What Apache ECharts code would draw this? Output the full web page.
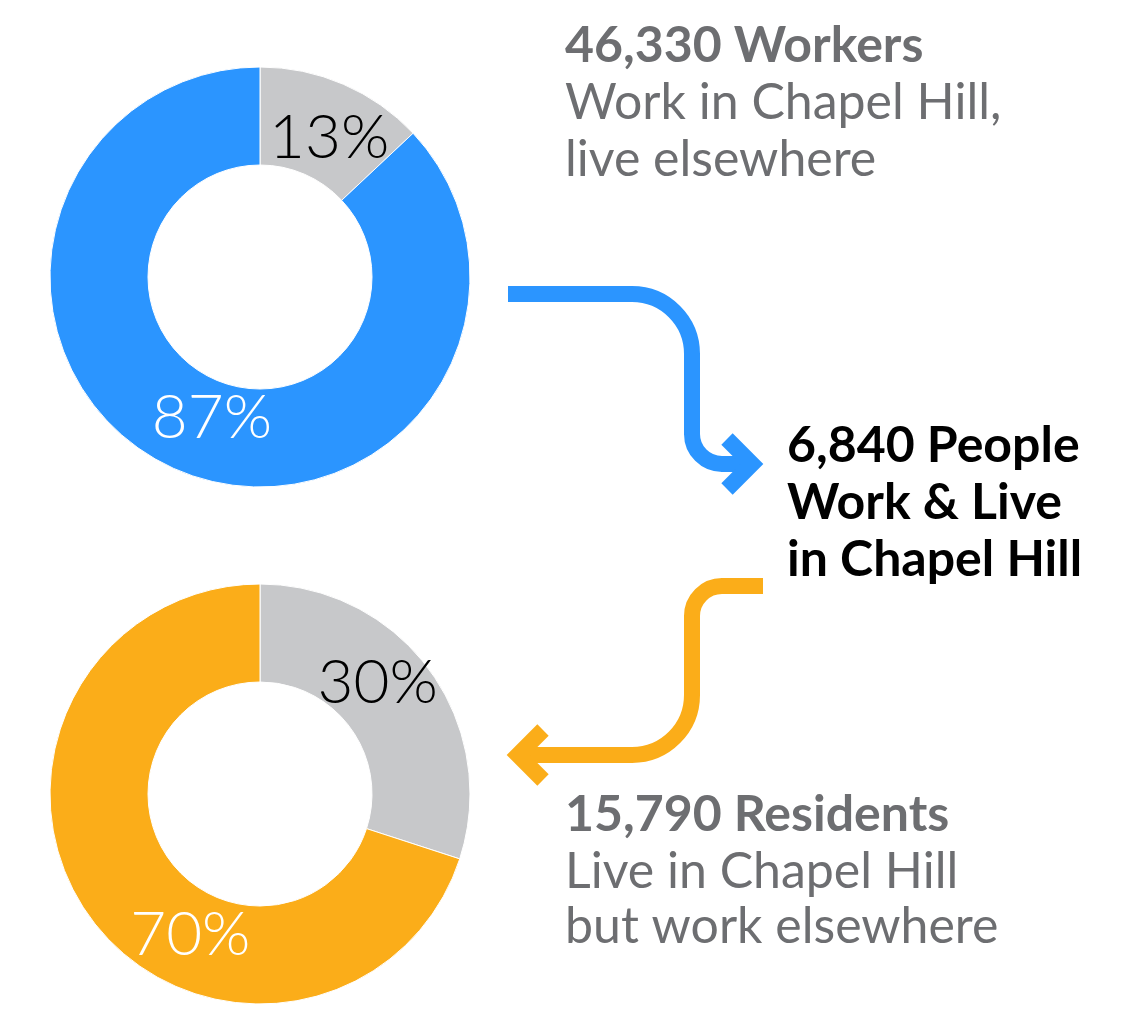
<!DOCTYPE html>
<html>
<head>
<meta charset="utf-8">
<script src="https://cdn.jsdelivr.net/npm/echarts@6/dist/echarts.min.js"></script>
<style>
  html, body { margin: 0; padding: 0; background: #fff; }
  #chart { width: 1139px; height: 1011px; }
</style>
</head>
<body>
<div id="chart"></div>
<script>
// data
var sliceNames = ['Elsewhere', 'Chapel Hill'];
var workerShares = [13, 87];     // work in Chapel Hill: live elsewhere / live in CH
var residentShares = [30, 70];   // live in Chapel Hill: work in CH / work elsewhere

var workerLines = ['46,330 Workers', 'Work in Chapel Hill,', 'live elsewhere'];
var bothLines = ['6,840 People', 'Work & Live', 'in Chapel Hill'];
var residentLines = ['15,790 Residents', 'Live in Chapel Hill', 'but work elsewhere'];

var blue = '#2b95ff';
var orange = '#fbad19';
var grey = '#c7c8ca';
var textGrey = '#6d6e71';
var font = 'Lato';

// small nudges so the percentages sit where the original has them
var labelNudge = [
    [[4, 12], [17, -10]],
    [[-15, -15], [63, 45]]
];

var myChart = echarts.init(document.getElementById('chart'));

function pieData(values, color) {
    return values.map(function (v, i) {
        return {
            name: sliceNames[i],
            value: v,
            itemStyle: { color: i === 0 ? grey : color },
            label: { color: i === 0 ? '#000' : '#fff' }
        };
    });
}

function donut(values, color, cy, idx) {
    return {
        type: 'pie',
        center: [260, cy],
        radius: [112, 210],
        startAngle: 90,
        clockwise: true,
        silent: true,
        avoidLabelOverlap: false,
        itemStyle: { borderColor: '#fff', borderWidth: 1 },
        label: {
            show: true,
            position: 'inside',
            formatter: '{c}%',
            fontFamily: font,
            fontWeight: 300,
            fontSize: 62
        },
        labelLine: { show: false },
        labelLayout: function (p) {
            var d = labelNudge[idx][p.dataIndex];
            return {
                x: p.labelRect.x + p.labelRect.width / 2 + d[0],
                y: p.labelRect.y + p.labelRect.height / 2 + d[1]
            };
        },
        data: pieData(values, color)
    };
}

function textLines(lines, x, baselines, colors, bold) {
    return lines.map(function (t, i) {
        return {
            type: 'text',
            x: x,
            y: baselines[i],
            style: {
                text: t,
                fill: colors,
                font: (bold[i] ? 'bold ' : 'normal ') + '50px ' + font,
                textAlign: 'left',
                textVerticalAlign: 'bottom'
            }
        };
    });
}

function stroke(c) {
    return { stroke: c, lineWidth: 16, fill: null, lineJoin: 'miter', lineCap: 'butt' };
}
function seg(x1, y1, x2, y2, c) {
    return { type: 'line', shape: { x1: x1, y1: y1, x2: x2, y2: y2 }, style: stroke(c) };
}
function bend(cx, cy, r, a0, a1, cw, c) {
    return { type: 'arc', shape: { cx: cx, cy: cy, r: r, startAngle: a0, endAngle: a1, clockwise: cw }, style: stroke(c) };
}
var PI = Math.PI;

var option = {
    backgroundColor: '#fff',
    animation: false,
    series: [
        donut(workerShares, blue, 277, 0),
        donut(residentShares, orange, 794, 1)
    ],
    graphic: [].concat(
        textLines(workerLines, 565, [71, 128, 185], textGrey, [true, false, false]),
        textLines(bothLines, 787, [471, 528, 585], '#000', [true, true, true]),
        textLines(residentLines, 565, [840, 897, 952], textGrey, [true, false, false]),
        [
            // blue arrow
            seg(508, 294, 633, 294, blue),
            bend(632, 354, 60, -PI / 2, 0, true, blue),
            seg(692, 353, 692, 435, blue),
            bend(722, 434, 30, PI, PI / 2, false, blue),
            seg(721, 464, 748, 464, blue),
            {
                type: 'polyline',
                shape: { points: [[727, 439], [752, 464], [727, 489]] },
                style: stroke(blue)
            },
            // orange arrow
            seg(763, 586, 721, 586, orange),
            bend(722, 616, 30, -PI / 2, -PI, false, orange),
            seg(692, 615, 692, 696, orange),
            bend(632, 695, 60, 0, PI / 2, true, orange),
            seg(633, 755, 522, 755, orange),
            {
                type: 'polyline',
                shape: { points: [[543, 730], [518, 755], [543, 780]] },
                style: stroke(orange)
            }
        ]
    )
};

myChart.setOption(option);
</script>
</body>
</html>
